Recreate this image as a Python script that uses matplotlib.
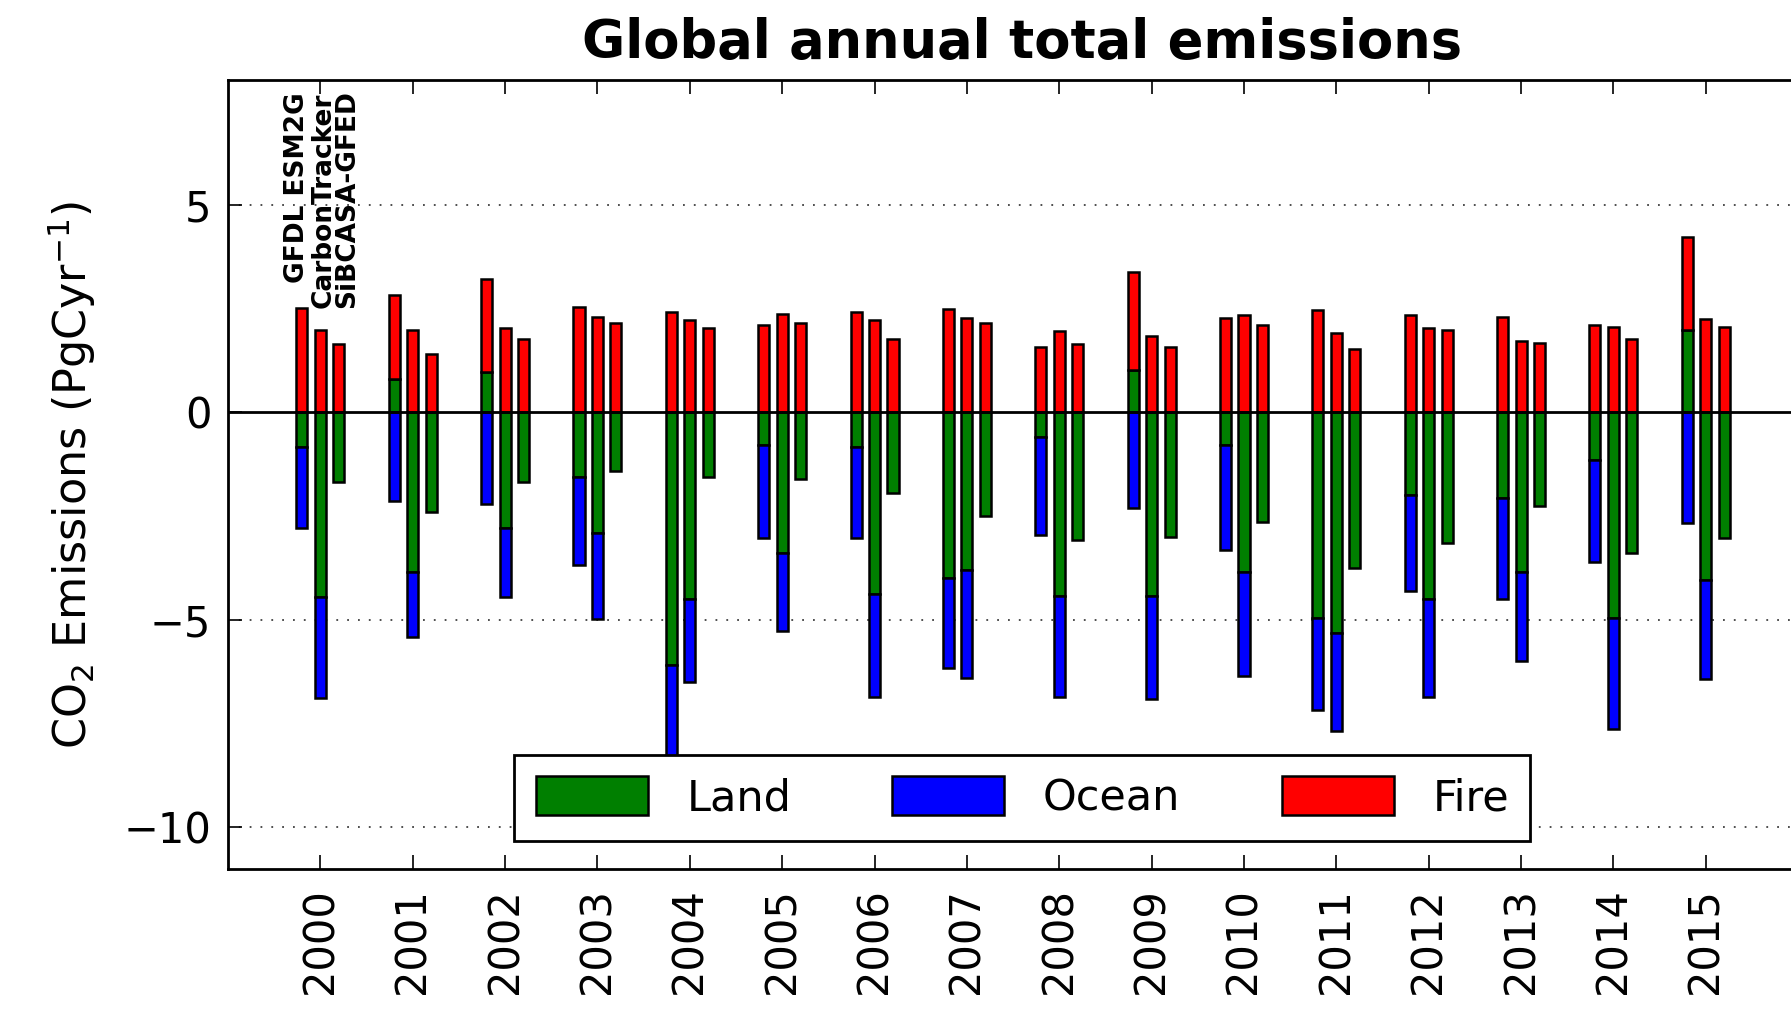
import numpy as np
import matplotlib
matplotlib.use("Agg")
import matplotlib.pyplot as plt

years = np.arange(2000, 2016)
models = ["GFDL ESM2G", "CarbonTracker", "SiBCASA-GFED"]

# annual totals per model (PgC/yr)
gfdl_land = [-0.85, 0.80, 0.98, -1.57, -6.08, -0.79, -0.85, -3.99,
             -0.60, 1.01, -0.79, -4.95, -2.00, -2.07, -1.16, 1.97]
gfdl_ocean = [-1.93, -2.14, -2.20, -2.11, -2.50, -2.24, -2.18, -2.17,
              -2.36, -2.30, -2.53, -2.22, -2.30, -2.43, -2.44, -2.66]
gfdl_fire = [2.50, 2.02, 2.22, 2.54, 2.42, 2.10, 2.42, 2.48,
             1.58, 2.37, 2.28, 2.47, 2.35, 2.29, 2.10, 2.26]

ct_land = [-4.44, -3.86, -2.78, -2.92, -4.50, -3.40, -4.37, -3.79,
           -4.42, -4.42, -3.85, -5.31, -4.50, -3.85, -4.95, -4.03]
ct_ocean = [-2.44, -1.56, -1.68, -2.06, -2.00, -1.88, -2.49, -2.62,
            -2.43, -2.49, -2.50, -2.36, -2.37, -2.14, -2.69, -2.39]
ct_fire = [1.97, 1.97, 2.03, 2.29, 2.22, 2.36, 2.22, 2.28,
           1.96, 1.84, 2.35, 1.90, 2.03, 1.72, 2.04, 2.24]

sib_land = [-1.68, -2.40, -1.68, -1.42, -1.56, -1.61, -1.94, -2.50,
            -3.08, -3.01, -2.64, -3.76, -3.15, -2.26, -3.40, -3.03]
sib_ocean = [0.0] * 16
sib_fire = [1.65, 1.39, 1.77, 2.15, 2.03, 2.16, 1.77, 2.16,
            1.65, 1.58, 2.10, 1.52, 1.97, 1.66, 1.77, 2.04]

lands = [gfdl_land, ct_land, sib_land]
oceans = [gfdl_ocean, ct_ocean, sib_ocean]
fires = [gfdl_fire, ct_fire, sib_fire]

plt.rcParams['font.family'] = 'DejaVu Sans'
plt.rcParams['mathtext.default'] = 'regular'

fig = plt.figure(figsize=(17.91, 10.18), dpi=100)
ax = fig.add_axes([0.1273, 0.1464, 0.887, 0.775])

offsets = [-0.2, 0.0, 0.2]
width = 0.12
for k in range(3):
    land = np.array(lands[k])
    ocean = np.array(oceans[k])
    fire = np.array(fires[k])
    x = years + offsets[k]
    pos = np.where(land > 0, land, 0)
    neg = np.where(land < 0, land, 0)
    kw = dict(width=width, edgecolor='k', linewidth=1.8, zorder=2)
    ax.bar(x, land, color='#007f00', label='Land' if k == 0 else None, **kw)
    ax.bar(x, ocean, bottom=np.where(ocean < 0, neg, pos), color='#0000ff',
           label='Ocean' if k == 0 else None, **kw)
    ax.bar(x, fire, bottom=pos, color='#ff0000',
           label='Fire' if k == 0 else None, **kw)

# model names above the first year's bars
name_x = [-0.25, 0.035, 0.29]
name_y = [3.12, 2.5, 2.5]
for k, name in enumerate(models):
    ax.text(2000 + name_x[k], name_y[k], name, rotation=90,
            ha='center', va='bottom', fontsize=19, fontweight='bold')

ax.axhline(0, color='k', linewidth=2, zorder=3)
for yv in [5, -5, -10]:
    ax.axhline(yv, color='k', linestyle=(0, (1, 5)), linewidth=1.3,
               alpha=0.75, zorder=1)

ax.set_xlim(1999, 2016.2)
ax.set_ylim(-11, 8)
ax.set_yticks([-10, -5, 0, 5])
ax.set_yticklabels(['\u221210', '\u22125', '0', '5'])
ax.set_xticks(years)
ax.set_xticklabels([str(y) for y in years], rotation=90)
ax.tick_params(axis='both', direction='in', labelsize=30, length=10,
               width=1.2, top=True, right=True, pad=12)
ax.tick_params(axis='x', pad=14)
for s in ax.spines.values():
    s.set_linewidth(2)

ax.set_ylabel('CO$_2$ Emissions (PgCyr$^{-1}$)', fontsize=32, labelpad=18)
ax.set_title('Global annual total emissions', fontsize=38,
             fontweight='bold', pad=16)

leg = ax.legend(loc='lower center', ncol=3, fontsize=31, fancybox=False,
                handlelength=2.6, handleheight=1.0, handletextpad=0.9,
                columnspacing=2.35, borderaxespad=0.65, framealpha=1,
                edgecolor='k', borderpad=0.5)
leg.get_frame().set_linewidth(2)
leg.set_zorder(5)

fig.savefig('out.png', dpi=100, facecolor='white')
